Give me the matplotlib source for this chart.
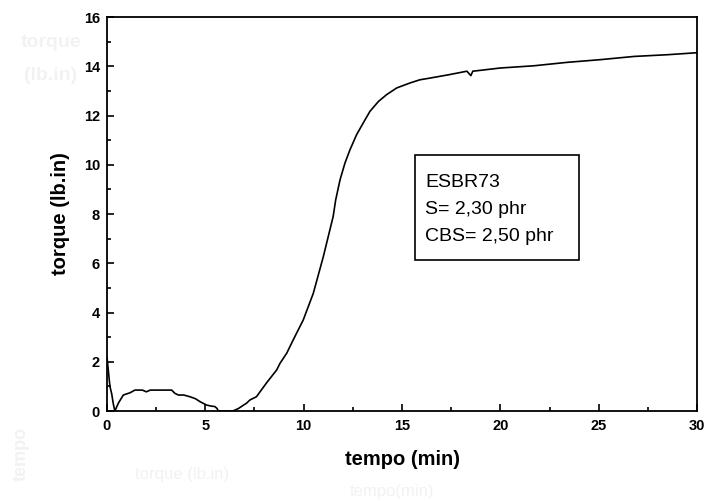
import numpy as np
import matplotlib
matplotlib.use("Agg")
import matplotlib.pyplot as plt
from matplotlib.patches import Rectangle

# Data.
tempo = [0.0, 0.05, 0.15, 0.24, 0.32, 0.4, 0.58, 0.83, 1.17, 1.42, 1.8, 2.0, 2.2,
         2.6, 3.0, 3.29, 3.45, 3.63, 3.9, 4.22, 4.5, 4.73, 5.07, 5.3, 5.49, 5.6,
         5.66, 6.0, 6.4, 6.68, 7.1, 7.27, 7.6, 8.12, 8.63, 8.8, 9.14, 9.47, 9.98,
         10.49, 11.0, 11.5, 11.63, 11.85, 12.1, 12.35, 12.69, 13.03, 13.37, 13.8,
         14.22, 14.73, 15.4, 15.9, 16.42, 17.4, 18.3, 18.5, 18.6, 20.0, 21.7, 23.4,
         25.1, 26.8, 28.5, 29.8, 30.0]
torque = [2.2, 1.8, 1.0, 0.7, 0.3, 0.0, 0.32, 0.65, 0.74, 0.85, 0.85, 0.78, 0.85,
          0.85, 0.85, 0.85, 0.72, 0.65, 0.65, 0.58, 0.5, 0.38, 0.24, 0.2, 0.18, 0.1,
          0.0, 0.0, 0.0, 0.1, 0.32, 0.45, 0.58, 1.15, 1.67, 1.94, 2.35, 2.89, 3.7,
          4.78, 6.27, 7.9, 8.58, 9.39, 10.07, 10.6, 11.22, 11.7, 12.17, 12.57,
          12.85, 13.12, 13.32, 13.45, 13.52, 13.66, 13.8, 13.62, 13.8, 13.93, 14.02,
          14.16, 14.27, 14.4, 14.47, 14.54, 14.55]

legend_lines = ["ESBR73", "S= 2,30 phr", "CBS= 2,50 phr"]

plt.rcParams['font.family'] = ['Liberation Sans', 'DejaVu Sans']

fig = plt.figure(figsize=(7.07, 5.01), dpi=100)
ax = fig.add_axes([0.1513, 0.1796, 0.8346, 0.7864])

ax.plot(tempo, torque, color='black', lw=1.2)

ax.set_xlim(0, 30)
ax.set_ylim(0, 16)
ax.set_xticks(np.arange(0, 31, 5))
ax.set_xticks(np.arange(0, 31, 2.5), minor=True)
ax.set_yticks(np.arange(0, 17, 2))
ax.set_yticks(np.arange(0, 17, 1), minor=True)
ax.tick_params(which='both', direction='in', top=False, right=False, width=1.2)
ax.tick_params(which='major', length=5, labelsize=10.5)
ax.tick_params(axis='x', which='major', pad=6)
ax.tick_params(axis='y', which='major', pad=5)
ax.tick_params(which='minor', length=3)
for lab in ax.get_xticklabels() + ax.get_yticklabels():
    lab.set_fontweight('bold')
for s in ax.spines.values():
    s.set_linewidth(1.3)

ax.set_xlabel('tempo (min)', fontsize=14.5, fontweight='bold', labelpad=12)
ax.set_ylabel('torque (lb.in)', fontsize=14.5, fontweight='bold', labelpad=10)

# legend box
ax.add_patch(Rectangle((0.522, 0.383), 0.278, 0.267, transform=ax.transAxes,
                       fc='white', ec='black', lw=1.2, zorder=3))
for i, line in enumerate(legend_lines):
    ax.text(0.539, 0.579 - i * 0.0685, line, transform=ax.transAxes,
            fontsize=14, va='center', ha='left', zorder=4)

# faint ghost text from the original scan
ghost = '#f2f2f2'
fig.text(0.072, 0.915, "torque", fontsize=14, fontweight='bold', color=ghost, ha='center', va='center')
fig.text(0.072, 0.85, "(lb.in)", fontsize=14, fontweight='bold', color=ghost, ha='center', va='center')
fig.text(0.03, 0.093, "tempo", fontsize=13, fontweight='bold', color=ghost, rotation=90, ha='center', va='center')
fig.text(0.258, 0.052, "torque (lb.in)", fontsize=12, color=ghost, ha='center', va='center')
fig.text(0.555, 0.018, "tempo(min)", fontsize=12, color=ghost, ha='center', va='center')

fig.savefig('out.png', dpi=100)
